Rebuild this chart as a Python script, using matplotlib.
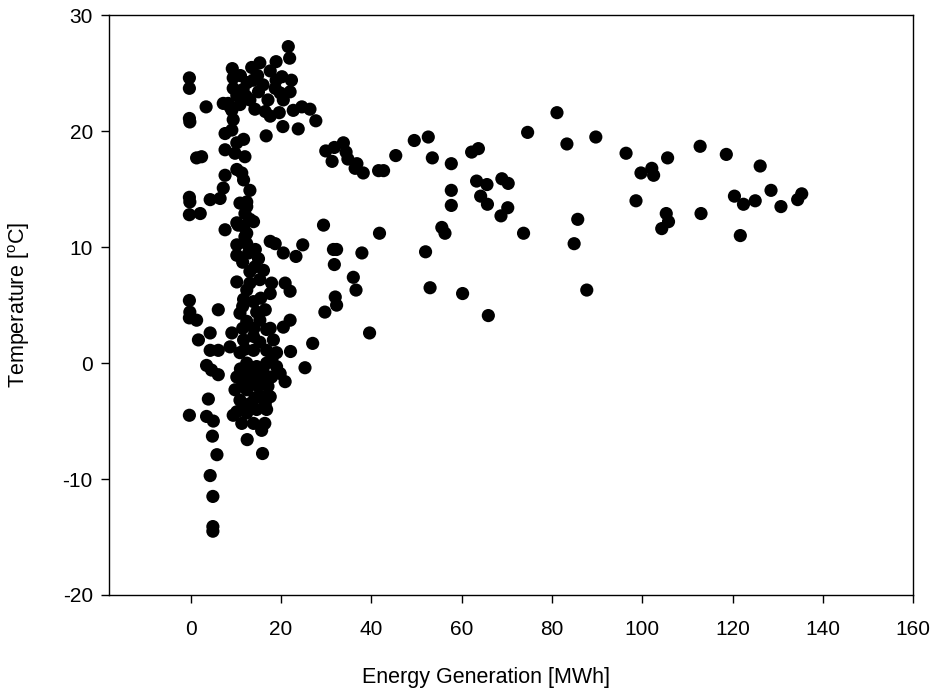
import matplotlib
matplotlib.use("Agg")
import matplotlib.pyplot as plt

plt.rcParams['font.family'] = ['Liberation Sans', 'DejaVu Sans']
plt.rcParams['mathtext.fontset'] = 'custom'
plt.rcParams['mathtext.rm'] = 'Liberation Sans'
plt.rcParams['mathtext.it'] = 'Liberation Sans:italic'
plt.rcParams['axes.unicode_minus'] = False

# points (energy in MWh, temperature in degC)
# near-zero generation column
energy_zero = [-0.3, -0.3, -0.3, -0.2, -0.3, -0.2, -0.3, -0.3, -0.2, -0.3, -0.3]
temp_zero = [24.6, 23.7, 21.1, 20.8, 14.3, 13.9, 12.8, 5.4, 4.4, 3.9, -4.5]

# low generation, scattered left of the main column
energy_low = [3.4, 7.2, 1.3, 2.4, 4.3, 6.5, 2.1, 7.6, 6.1, 1.3, 4.3, 1.7, 4.3, 6.1,
              8.7, 3.5, 4.6, 6.1, 3.9, 3.5, 5.0, 4.8, 5.8, 4.3, 4.9, 4.9, 4.9]
temp_low = [22.1, 22.4, 17.7, 17.8, 14.1, 14.2, 12.9, 11.5, 4.6, 3.7, 2.6, 2.0, 1.1, 1.1,
            1.4, -0.2, -0.6, -1.0, -3.1, -4.6, -5.0, -6.3, -7.9, -9.7, -11.5, -14.1, -14.5]

# warm cluster at the top of the main column
energy_top = [21.6, 21.9, 9.2, 13.5, 15.3, 18.9, 17.6, 20.2, 9.4, 9.4, 10.2, 8.3, 9.1,
              16.0, 18.7, 20.5, 13.1, 11.6, 15.0, 17.1, 22.0, 22.3, 18.9, 13.8, 10.9,
              14.2, 11.0, 12.3, 19.8, 16.5, 17.6, 22.7, 24.6, 26.4, 27.7, 20.4, 23.8,
              16.7, 12.5, 14.8, 19.6]
temp_top = [27.3, 26.3, 25.4, 25.5, 25.9, 26.0, 25.2, 24.7, 24.6, 23.7, 23.1, 22.4, 21.8,
            24.0, 23.7, 22.7, 22.7, 23.6, 23.4, 22.7, 23.4, 24.4, 24.4, 24.4, 22.3,
            21.9, 24.8, 23.0, 23.3, 21.7, 21.3, 21.8, 22.1, 21.9, 20.9, 20.4, 20.2,
            19.6, 24.2, 24.8, 21.6]

# upper part of the main column
energy_upper = [9.4, 8.7, 7.6, 7.6, 9.8, 11.7, 12.0, 10.2, 11.7, 13.1, 12.4, 13.9,
                11.7, 7.6, 7.2, 10.2, 9.1, 10.2, 11.3, 10.9, 12.4, 12.0, 13.1, 10.5,
                12.0, 12.4, 12.4, 10.2, 10.2, 12.8, 15.0]
temp_upper = [21.0, 22.1, 19.8, 18.4, 18.1, 19.3, 17.8, 16.7, 15.8, 14.9, 13.5, 12.2,
              11.8, 16.2, 15.1, 12.1, 20.1, 19.0, 16.4, 13.8, 13.9, 12.9, 12.4, 11.9,
              10.9, 11.2, 10.3, 10.2, 9.3, 9.5, 9.0]

# dense middle of the main column
energy_mid = [13.1, 16.1, 10.2, 13.1, 15.3, 17.9, 20.9, 22.0, 17.6, 12.4, 11.7, 13.9,
              10.9, 14.6, 16.5, 12.4, 15.3, 17.6, 20.5, 22.0, 9.1, 11.7, 13.9, 16.8,
              18.3, 13.9, 16.8, 19.0, 10.9, 12.4, 14.6, 16.8, 19.0, 10.2, 12.8, 15.3,
              17.9, 19.8, 9.8, 12.4, 14.9, 17.1, 10.9, 13.1, 15.7, 17.6, 10.2, 12.4,
              14.6, 16.8, 11.3, 13.9, 16.4,
              11.5, 14.2, 11.5, 14.0, 12.0, 15.3, 11.0, 13.5, 16.0, 18.0, 11.5, 15.5, 14.3,
              11.5, 14.0, 16.3, 11.6, 14.2, 16.5]
temp_mid = [7.9, 8.0, 7.0, 6.9, 7.2, 6.9, 6.9, 6.2, 6.0, 6.3, 5.5, 5.3,
            4.3, 4.4, 4.6, 3.6, 3.7, 3.0, 3.1, 3.7, 2.6, 2.0, 2.3, 2.9,
            2.0, 1.1, 1.1, 0.9, 0.9, 0.0, -0.3, 0.0, -0.3, -1.2, -1.2, -1.2,
            -1.2, -0.9, -2.3, -2.3, -2.0, -2.0, -3.2, -3.5, -2.9, -2.9, -4.2, -4.3,
            -4.0, -4.0, -5.2, -5.2, -5.2,
            8.7, 8.3, 3.0, 3.0, 1.2, 1.8, -0.5, -0.6, -0.6, 0.4, 4.9, 5.6, 9.8,
            -1.8, -1.6, -1.5, -3.8, -3.0, -3.5]

# right edge of the main column
energy_side = [17.6, 18.7, 24.8, 20.5, 23.3, 29.4, 27.0, 22.1, 25.3, 20.9,
               29.7, 32.0, 32.3, 31.6, 32.3, 31.8]
temp_side = [10.5, 10.3, 10.2, 9.5, 9.2, 11.9, 1.7, 1.0, -0.4, -1.6,
             4.4, 5.7, 5.0, 9.8, 9.8, 8.5]

# cold outliers at the bottom of the main column
energy_cold = [9.4, 15.7, 12.5, 15.9]
temp_cold = [-4.5, -5.8, -6.6, -7.8]

# medium generation
energy_med = [29.9, 31.3, 31.8, 33.8, 34.4, 34.8, 36.8, 36.4, 38.2, 41.6, 42.7,
              45.4, 49.5, 52.6, 53.5, 57.7, 62.2, 63.7, 74.6, 81.1, 83.3, 89.7, 96.4,
              63.3, 65.6, 68.9, 70.3, 64.2, 65.7, 70.2, 68.7, 57.7, 57.7, 73.7, 85.7,
              84.9, 41.8, 55.6, 56.3, 52.0, 37.9, 36.0, 36.6, 53.0, 60.2, 87.7, 65.9,
              39.6]
temp_med = [18.3, 17.4, 18.6, 19.0, 18.2, 17.6, 17.2, 16.8, 16.4, 16.6, 16.6,
            17.9, 19.2, 19.5, 17.7, 17.2, 18.2, 18.5, 19.9, 21.6, 18.9, 19.5, 18.1,
            15.7, 15.4, 15.9, 15.5, 14.4, 13.7, 13.4, 12.7, 14.9, 13.6, 11.2, 12.4,
            10.3, 11.2, 11.7, 11.2, 9.6, 9.5, 7.4, 6.3, 6.5, 6.0, 6.3, 4.1,
            2.6]

# high generation
energy_high = [112.8, 118.6, 105.6, 126.1, 99.7, 102.1, 102.5, 98.6, 105.3, 105.8,
               104.3, 113.0, 120.4, 122.4, 125.0, 128.5, 130.7, 135.3, 134.4, 121.7]
temp_high = [18.7, 18.0, 17.7, 17.0, 16.4, 16.8, 16.2, 14.0, 12.9, 12.2,
             11.6, 12.9, 14.4, 13.7, 14.0, 14.9, 13.5, 14.6, 14.1, 11.0]

energy = (energy_zero + energy_low + energy_top + energy_upper + energy_mid
          + energy_side + energy_cold + energy_med + energy_high)
temp = (temp_zero + temp_low + temp_top + temp_upper + temp_mid
        + temp_side + temp_cold + temp_med + temp_high)

fig = plt.figure(figsize=(9.34, 6.98), dpi=100)
ax = fig.add_axes([0.1172, 0.1476, 0.8606, 0.8305])

ax.scatter(energy, temp, s=90, c='black', edgecolors='none', zorder=3)

ax.set_xlim(-18, 160)
ax.set_ylim(-20, 30)
ax.set_xticks(range(0, 161, 20))
ax.set_yticks(range(-20, 31, 10))
ax.tick_params(axis='both', direction='out', length=6, width=1, labelsize=15,
               top=False, right=False)
ax.tick_params(axis='x', pad=12)
ax.tick_params(axis='y', pad=6)
for sp in ax.spines.values():
    sp.set_linewidth(1.0)

ax.set_xlabel('Energy Generation [MWh]', fontsize=15.5)
ax.xaxis.set_label_coords(0.468, -0.125)
ax.set_ylabel('Temperature [$^{\\mathrm{o}}$C]', fontsize=15.5)
ax.yaxis.set_label_coords(-0.096, 0.50)

fig.savefig('out.png', dpi=100)
